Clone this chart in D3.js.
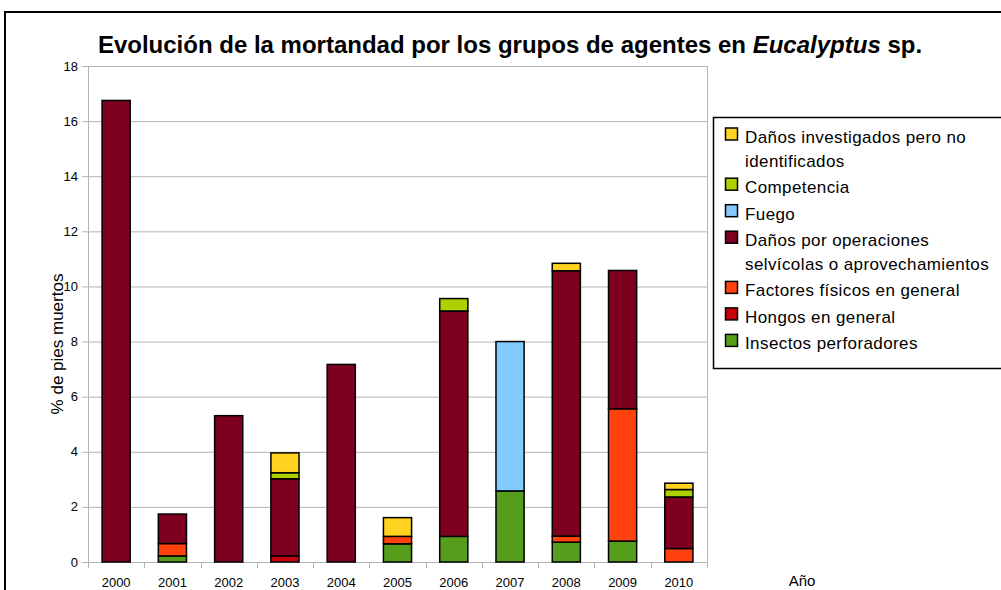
<!DOCTYPE html>
<html>
<head>
<meta charset="utf-8">
<script src="https://cdn.jsdelivr.net/npm/d3@7"></script>
<style>
  body { margin: 0; background: #fff; }
  text { font-family: "Liberation Sans", Arial, sans-serif; }
</style>
</head>
<body>
<script>
// years on the x axis
var years = ["2000", "2001", "2002", "2003", "2004", "2005", "2006", "2007", "2008", "2009", "2010"]

// % de pies muertos, one array per agent group (bottom of stack first)
var insectos     = [0, 0.22, 0, 0, 0, 0.66, 0.93, 2.58, 0.72, 0.76, 0]
var hongos       = [0, 0, 0, 0.22, 0, 0, 0, 0, 0, 0, 0]
var factores     = [0, 0.45, 0, 0, 0, 0.27, 0, 0, 0.22, 4.8, 0.49]
var operaciones  = [16.75, 1.07, 5.31, 2.8, 7.17, 0, 8.18, 0, 9.63, 5.02, 1.87]
var fuego        = [0, 0, 0, 0, 0, 0, 0, 5.42, 0, 0, 0]
var competencia  = [0, 0, 0, 0.22, 0, 0, 0.45, 0, 0, 0, 0.27]
var investigados = [0, 0, 0, 0.72, 0, 0.68, 0, 0, 0.27, 0, 0.23]

var yticks = [0, 2, 4, 6, 8, 10, 12, 14, 16, 18]

var series = [
  {key: "insectos", values: insectos, color: "#579d1c", label: ["Insectos perforadores"]},
  {key: "hongos", values: hongos, color: "#c5000b", label: ["Hongos en general"]},
  {key: "factores", values: factores, color: "#ff420e", label: ["Factores físicos en general"]},
  {key: "operaciones", values: operaciones, color: "#7e0021", label: ["Daños por operaciones", "selvícolas o aprovechamientos"]},
  {key: "fuego", values: fuego, color: "#83caff", label: ["Fuego"]},
  {key: "competencia", values: competencia, color: "#aecf00", label: ["Competencia"]},
  {key: "investigados", values: investigados, color: "#ffd320", label: ["Daños investigados pero no", "identificados"]}
]

var W = 1001, H = 590
var plot = {left: 88, right: 707, top: 66, bottom: 562}

var svg = d3.select("body").append("svg")
  .attr("width", W)
  .attr("height", H)

// outer frame
svg.append("rect")
  .attr("x", 5).attr("y", 12)
  .attr("width", 1200).attr("height", 800)
  .attr("fill", "none")
  .attr("stroke", "#000")
  .attr("stroke-width", 2)

var x = d3.scaleBand()
  .domain(years)
  .range([plot.left, plot.right])
  .paddingInner(0.5)
  .paddingOuter(0.25)

var xb = d3.scaleBand().domain(years).range([plot.left, plot.right])

var y = d3.scaleLinear()
  .domain([0, 18])
  .range([plot.bottom, plot.top])

// gridlines
svg.append("g")
  .selectAll("line")
  .data(yticks)
  .enter()
  .append("line")
  .attr("x1", plot.left - 6)
  .attr("x2", plot.right)
  .attr("y1", function (d) { return y(d) + 0.5 })
  .attr("y2", function (d) { return y(d) + 0.5 })
  .attr("stroke", "#b3b3b3")
  .attr("stroke-width", 1)

// plot borders (left and right)
svg.append("line")
  .attr("x1", plot.left + 0.5).attr("x2", plot.left + 0.5)
  .attr("y1", plot.top).attr("y2", plot.bottom + 6)
  .attr("stroke", "#b3b3b3")
svg.append("line")
  .attr("x1", plot.right + 0.5).attr("x2", plot.right + 0.5)
  .attr("y1", plot.top).attr("y2", plot.bottom + 6)
  .attr("stroke", "#b3b3b3")

// x ticks between categories
svg.append("g")
  .selectAll("line")
  .data(years.slice(1))
  .enter()
  .append("line")
  .attr("x1", function (d) { return Math.round(xb(d)) + 0.5 })
  .attr("x2", function (d) { return Math.round(xb(d)) + 0.5 })
  .attr("y1", plot.bottom)
  .attr("y2", plot.bottom + 6)
  .attr("stroke", "#b3b3b3")

// y tick labels
svg.append("g")
  .selectAll("text")
  .data(yticks)
  .enter()
  .append("text")
  .attr("x", plot.left - 10)
  .attr("y", function (d) { return y(d) + 4.5 })
  .attr("text-anchor", "end")
  .attr("font-size", 13)
  .attr("fill", "#000")
  .text(function (d) { return d })

// x tick labels
svg.append("g")
  .selectAll("text")
  .data(years)
  .enter()
  .append("text")
  .attr("x", function (d) { return xb(d) + xb.bandwidth() / 2 })
  .attr("y", 587)
  .attr("text-anchor", "middle")
  .attr("font-size", 13)
  .attr("fill", "#000")
  .text(function (d) { return d })

// stacked bars
var table = years.map(function (yr, i) {
  var row = {year: yr}
  series.forEach(function (s) { row[s.key] = s.values[i] })
  return row
})
var stacked = d3.stack().keys(series.map(function (s) { return s.key }))(table)

stacked.forEach(function (layer, li) {
  svg.append("g")
    .selectAll("rect")
    .data(layer.filter(function (d) { return d[1] - d[0] > 0 }))
    .enter()
    .append("rect")
    .attr("x", function (d) { return x(d.data.year) })
    .attr("width", x.bandwidth())
    .attr("y", function (d) { return y(d[1]) })
    .attr("height", function (d) { return y(d[0]) - y(d[1]) })
    .attr("fill", series[li].color)
    .attr("stroke", "#000")
    .attr("stroke-width", 1.5)
})

// title
var title = svg.append("text")
  .attr("x", 510)
  .attr("y", 53)
  .attr("text-anchor", "middle")
  .attr("font-size", 24)
  .attr("font-weight", "bold")
title.append("tspan").text("Evolución de la mortandad por los grupos de agentes en ")
title.append("tspan").attr("font-style", "italic").text("Eucalyptus")
title.append("tspan").text(" sp.")

// axis titles
svg.append("text")
  .attr("transform", "translate(63,344) rotate(-90)")
  .attr("text-anchor", "middle")
  .attr("font-size", 17)
  .text("% de pies muertos")

svg.append("text")
  .attr("x", 802)
  .attr("y", 586)
  .attr("text-anchor", "middle")
  .attr("font-size", 15)
  .text("Año")

// legend
var legend = svg.append("g")
legend.append("rect")
  .attr("x", 713.5).attr("y", 117.5)
  .attr("width", 400).attr("height", 251)
  .attr("fill", "#fff")
  .attr("stroke", "#000")
  .attr("stroke-width", 1.5)

var base = 143
series.slice().reverse().forEach(function (s) {
  legend.append("rect")
    .attr("x", 725.5).attr("y", base - 15)
    .attr("width", 12).attr("height", 12)
    .attr("fill", s.color)
    .attr("stroke", "#000")
    .attr("stroke-width", 1.5)
  s.label.forEach(function (line, k) {
    legend.append("text")
      .attr("x", 745)
      .attr("y", base + k * 23.7)
      .attr("font-size", 17)
      .attr("letter-spacing", 0.4)
      .text(line)
  })
  base += (s.label.length - 1) * 23.7 + 26.5
})
</script>
</body>
</html>
